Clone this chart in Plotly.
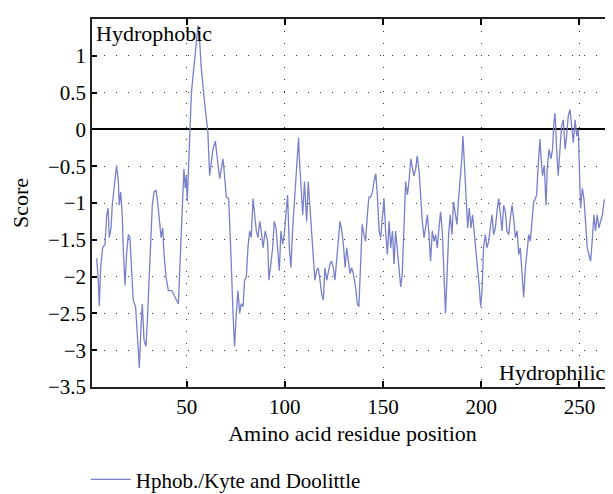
import plotly.graph_objects as go

# Residue positions and Kyte-Doolittle hydrophobicity scores
positions = [
    4.2, 5.0, 5.5, 6.2, 7.2, 8.4, 9.3, 10.0, 10.6, 11.5, 12.1, 13.0, 14.3, 15.2, 15.7, 16.4,
    17.2, 17.7, 18.6, 19.4, 20.3, 21.1, 22.0, 22.8, 24.0, 25.4, 25.9, 26.6, 27.4, 28.3, 29.3,
    30.0, 31.0, 31.7, 32.5, 33.4, 34.4, 35.2, 36.1, 37.0, 37.8, 38.5, 39.5, 40.7, 42.4, 44.1,
    45.8, 46.4, 47.3, 48.1, 48.6, 49.3, 49.8, 50.3, 51.0, 51.5, 52.4, 53.2, 54.1, 55.0, 55.8,
    56.6, 57.4, 58.8, 60.0, 60.8, 61.7, 62.6, 63.4, 64.6, 65.6, 66.8, 67.6, 68.5, 69.3, 70.2,
    71.4, 72.2, 72.8, 73.6, 74.4, 75.3, 76.1, 77.0, 77.8, 78.7, 79.5, 80.4, 81.2, 82.1, 82.9,
    83.8, 84.7, 85.5, 86.3, 87.2, 88.0, 88.9, 90.0, 91.2, 91.9, 92.7, 93.8, 94.6, 95.5, 96.3,
    97.2, 98.0, 98.9, 99.7, 100.6, 101.4, 102.3, 103.1, 104.0, 104.9, 105.6, 106.5, 107.0,
    107.4, 108.3, 109.1, 110.0, 110.5, 111.1, 111.9, 112.8, 113.6, 114.5, 115.3, 116.2, 117.0,
    117.9, 118.7, 119.6, 120.4, 121.3, 122.1, 123.0, 123.8, 124.7, 125.5, 126.4, 127.2, 128.1,
    129.0, 129.8, 130.7, 131.5, 132.3, 133.2, 134.0, 134.9, 136.0, 136.9, 137.7, 138.6, 139.4,
    140.3, 141.1, 142.0, 142.8, 143.7, 144.6, 145.4, 146.3, 147.1, 148.0, 148.8, 149.6, 150.5,
    151.3, 152.2, 153.1, 153.9, 154.8, 155.6, 156.4, 157.3, 158.1, 159.0, 159.8, 160.7, 161.5,
    162.4, 163.2, 164.1, 165.0, 165.7, 166.6, 167.4, 168.4, 169.1, 170.0, 170.9, 171.7, 172.6,
    173.4, 174.2, 175.1, 176.0, 176.8, 177.6, 178.5, 179.3, 180.2, 181.0, 181.8, 182.5, 183.4,
    184.2, 185.1, 185.9, 186.8, 187.6, 188.5, 189.3, 190.2, 190.7, 191.5, 192.2, 193.1, 193.9,
    194.8, 195.6, 196.5, 197.3, 198.2, 199.0, 199.7, 200.4, 201.2, 202.1, 202.9, 203.8, 204.6,
    205.5, 206.3, 207.2, 208.0, 208.9, 209.8, 210.6, 211.4, 212.3, 213.1, 214.0, 214.8, 215.7,
    216.5, 217.4, 218.3, 219.1, 219.9, 220.8, 221.6, 222.5, 223.3, 224.2, 225.0, 225.9, 226.7,
    227.3, 228.2, 229.0, 229.9, 230.4, 231.2, 232.1, 233.0, 233.6, 234.5, 235.5, 236.3, 237.0,
    237.6, 238.4, 239.2, 240.1, 240.9, 241.8, 242.7, 243.5, 244.3, 245.2, 246.1, 246.9, 247.8,
    248.6, 249.4, 249.9, 250.6, 251.5, 252.3, 253.1, 254.0, 254.8, 255.7, 256.5, 257.4, 258.2,
    259.1, 259.9, 260.8, 261.7, 262.5, 263.3, 264.2, 265.2, 266.3, 267.0, 268.0,
]
scores = [
    -1.75, -2.05, -2.40, -1.88, -1.61, -1.56, -1.16, -1.07, -1.47, -1.34, -1.03, -0.80, -0.49, -0.71, -1.03, -0.85,
    -1.16, -1.61, -2.12, -1.70, -1.43, -1.47, -2.05, -2.32, -2.41, -2.95, -3.24, -2.77, -2.37, -2.86, -2.95,
    -2.59, -1.88, -1.38, -1.03, -0.85, -0.83, -0.98, -1.25, -1.47, -1.34, -1.70, -2.01, -2.19, -2.19, -2.28,
    -2.37, -1.96, -1.34, -0.89, -0.54, -0.80, -0.63, -0.98, -0.49, 0.00, 0.49, 0.71, 0.94, 1.25, 1.41,
    1.21, 0.85, 0.45, 0.18, -0.04, -0.63, -0.45, -0.27, -0.16, -0.36, -0.67, -0.54, -0.40, -0.63, -0.92,
    -0.94, -1.38, -1.88, -2.50, -2.95, -2.50, -2.19, -2.50, -2.37, -2.41, -2.05, -2.01, -1.61, -1.38, -1.47,
    -0.94, -1.16, -1.38, -1.47, -1.25, -1.38, -1.61, -1.38, -1.52, -2.05, -1.88, -1.61, -1.25, -1.34, -1.61,
    -1.92, -1.38, -1.56, -1.43, -1.16, -0.89, -1.61, -1.88, -1.34, -0.94, -0.63, -0.36, -0.11,
    -0.40, -0.76, -1.16, -0.71, -0.98, -1.25, -0.71, -1.07, -1.43, -1.88, -2.05, -1.92, -1.88,
    -2.05, -2.23, -2.32, -1.88, -2.05, -1.96, -1.83, -1.79, -1.88, -2.05, -1.70, -1.52, -1.25,
    -1.38, -1.56, -1.88, -1.61, -1.79, -1.96, -1.88, -1.96, -2.14, -2.37, -2.41, -1.88, -1.29,
    -1.43, -1.52, -1.16, -0.92, -0.92, -0.85, -0.71, -0.60, -0.89, -1.38, -1.47, -1.25, -0.94,
    -1.38, -1.70, -1.25, -1.61, -1.38, -1.83, -1.38, -1.61, -1.88, -2.14, -1.96, -1.16, -0.71,
    -0.89, -0.71, -0.40, -0.54, -0.63, -0.54, -0.36, -0.58, -0.89, -1.25, -1.47, -1.34, -1.16,
    -1.43, -1.79, -1.38, -1.52, -1.43, -1.61, -1.34, -1.12, -1.40, -2.05, -2.50, -2.05, -1.43,
    -1.16, -1.43, -0.98, -1.12, -1.29, -0.94, -0.71, -0.36, -0.09, -0.54, -0.98, -1.34, -1.07,
    -1.34, -1.16, -1.43, -1.56, -1.88, -2.14, -2.41, -2.19, -1.61, -1.43, -1.61, -1.52, -1.34,
    -1.16, -1.43, -1.34, -1.12, -0.94, -1.16, -1.38, -1.03, -1.12, -1.38, -1.43, -1.21, -1.03,
    -1.21, -1.47, -1.38, -1.70, -1.61, -2.01, -2.28, -1.88, -1.61, -1.43, -1.52, -1.25, -0.98,
    -0.96, -0.89, -0.49, -0.13, -0.36, -0.63, -0.49, -1.03, -0.54, -0.27, -0.40, -0.27, 0.09,
    0.22, -0.27, -0.63, -0.27, 0.04, 0.13, -0.27, -0.09, 0.18, 0.27, 0.04, -0.18, 0.13,
    -0.09, 0.00, -0.49, -1.07, -0.80, -0.94, -1.25, -1.61, -1.70, -1.79, -1.52, -1.16, -1.38,
    -1.16, -1.34, -1.25, -1.16, -0.98, -0.94, -1.03, -1.25, -1.38, -1.55, -1.70,
]

x_ticks = [50, 100, 150, 200, 250]
y_ticks = [1.5, 1, 0.5, 0, -0.5, -1, -1.5, -2, -2.5, -3, -3.5]

FONT = "Liberation Serif"

fig = go.Figure()
fig.add_trace(go.Scatter(
    x=positions, y=scores, mode="lines",
    name="Hphob./Kyte and Doolittle",
    line=dict(color="#7880ca", width=1.3),
))

# The page body adds an 8px offset, so the figure is sized to the remaining window area.
fig.update_layout(
    width=605, height=486,
    margin=dict(l=84, r=0, t=11, b=107, autoexpand=False),
    paper_bgcolor="white", plot_bgcolor="white",
    font=dict(family=FONT, size=21, color="black"),
    showlegend=True,
    legend=dict(orientation="h", x=-0.012, xanchor="left", y=-0.252, yanchor="middle",
                font=dict(family=FONT, size=21), itemwidth=40),
    annotations=[
        dict(text="Hydrophobic", xref="paper", yref="paper", x=0.004, y=1.0,
             xanchor="left", yanchor="top", showarrow=False, font=dict(family=FONT, size=22)),
        dict(text="Hydrophilic", xref="paper", yref="paper", x=0.99, y=0.0,
             xanchor="right", yanchor="bottom", showarrow=False, font=dict(family=FONT, size=22)),
    ],
)

fig.update_xaxes(
    range=[1.8, 267.1], tickvals=x_ticks, ticks="inside", ticklen=6, tickwidth=2,
    tickcolor="black", showline=True, linecolor="#222", linewidth=1.5, mirror="ticks",
    showgrid=True, gridcolor="#333", gridwidth=1, griddash="1px,11px",
    zeroline=False, tickfont=dict(size=21), automargin=False,
    title=dict(text="Amino acid residue position", font=dict(size=22), standoff=8),
)
fig.update_yaxes(
    range=[-3.5, 1.5], tickvals=y_ticks, ticks="inside", ticklen=5, tickwidth=2,
    tickcolor="black", showline=True, linecolor="#222", linewidth=1.5, mirror=False,
    showgrid=True, gridcolor="#333", gridwidth=1, griddash="1px,11px",
    zeroline=True, zerolinecolor="black", zerolinewidth=2, tickfont=dict(size=21),
    automargin=False,
    title=dict(text="Score", font=dict(size=22), standoff=14),
)

fig.write_html("out.html")
